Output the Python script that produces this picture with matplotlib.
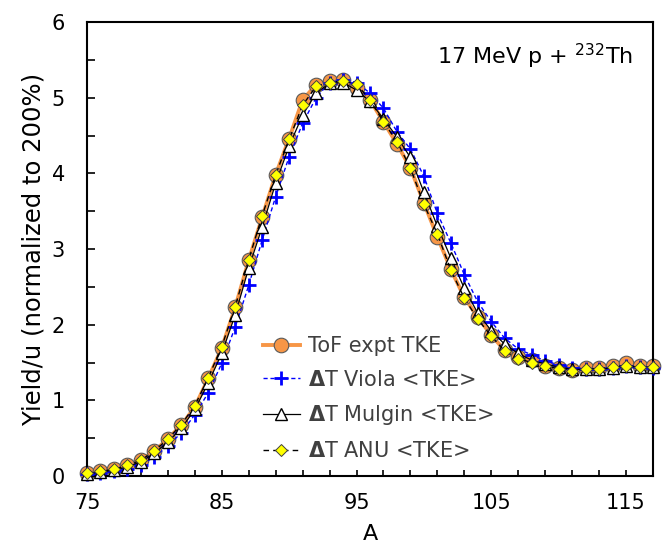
import matplotlib
matplotlib.use("Agg")
import matplotlib.pyplot as plt

# mass number A
A = list(range(75, 118))

# ToF expt TKE
tof = [0.04, 0.06, 0.09, 0.14, 0.21, 0.33, 0.49, 0.67, 0.91, 1.29,
       1.69, 2.23, 2.85, 3.42, 3.98, 4.46, 4.97, 5.17, 5.22, 5.24,
       5.13, 4.97, 4.68, 4.39, 4.07, 3.61, 3.16, 2.73, 2.36, 2.10,
       1.86, 1.66, 1.57, 1.53, 1.45, 1.43, 1.40, 1.43, 1.43, 1.46,
       1.49, 1.45, 1.46]

# dT Viola <TKE>
viola = [0.03, 0.04, 0.06, 0.09, 0.15, 0.25, 0.40, 0.57, 0.81, 1.10,
         1.49, 1.97, 2.52, 3.12, 3.69, 4.22, 4.66, 5.00, 5.20, 5.24,
         5.20, 5.06, 4.86, 4.55, 4.32, 3.96, 3.47, 3.08, 2.66, 2.30,
         2.04, 1.82, 1.68, 1.60, 1.52, 1.47, 1.43, 1.42, 1.42, 1.43,
         1.45, 1.44, 1.43]

# dT Mulgin <TKE>
mulgin = [0.03, 0.05, 0.08, 0.12, 0.19, 0.30, 0.45, 0.63, 0.88, 1.23,
          1.62, 2.13, 2.75, 3.29, 3.87, 4.36, 4.77, 5.06, 5.19, 5.20,
          5.10, 4.95, 4.72, 4.48, 4.21, 3.75, 3.30, 2.88, 2.48, 2.15,
          1.92, 1.74, 1.62, 1.53, 1.48, 1.44, 1.41, 1.41, 1.41, 1.43,
          1.45, 1.44, 1.44]

# dT ANU <TKE>
anu = [0.04, 0.06, 0.09, 0.14, 0.21, 0.33, 0.49, 0.68, 0.93, 1.30,
       1.71, 2.24, 2.86, 3.44, 3.98, 4.45, 4.90, 5.15, 5.20, 5.22,
       5.18, 4.97, 4.68, 4.42, 4.07, 3.59, 3.20, 2.72, 2.35, 2.07,
       1.85, 1.65, 1.55, 1.50, 1.45, 1.42, 1.39, 1.41, 1.42, 1.44,
       1.46, 1.44, 1.44]

plt.rcParams["font.family"] = "DejaVu Sans"

fig = plt.figure(figsize=(6.65, 5.45), dpi=100)
ax = fig.add_axes([87/665, 1 - 476/545, (653 - 87)/665, (476 - 22)/545])

ax.plot(A, tof, color="#F79646", lw=2.8, marker="o", ms=10.5, clip_on=False,
        mfc="#F79646", mec="#595959", mew=0.8, label="ToF expt TKE", zorder=2)
ax.plot(A, viola, color="#0000FF", lw=1.0, ls=(0, (3, 2)), marker="+", ms=10,
        mew=2.0, clip_on=False, label=r"$\mathbf{\Delta}$T Viola <TKE>", zorder=3)
ax.plot(A, mulgin, color="black", lw=0.9, marker="^", ms=8, clip_on=False,
        mfc="white", mec="black", mew=1.0, label=r"$\mathbf{\Delta}$T Mulgin <TKE>", zorder=4)
ax.plot(A, anu, color="black", lw=1.0, ls=(0, (4, 3)), marker="D", ms=6.3, clip_on=False,
        mfc="#FFFF00", mec="#404040", mew=0.7, label=r"$\mathbf{\Delta}$T ANU <TKE>", zorder=5)

ax.set_xlim(75, 117)
ax.set_ylim(0, 6)
ax.set_xticks([75, 85, 95, 105, 115])
ax.set_xticks(list(range(77, 118, 2)), minor=True)
ax.set_yticks([0, 1, 2, 3, 4, 5, 6])
ax.set_yticks([0.5, 1.5, 2.5, 3.5, 4.5, 5.5], minor=True)
ax.tick_params(axis="both", which="both", direction="in", width=1.2, labelsize=15)
ax.tick_params(axis="x", which="both", length=4, pad=12)
ax.tick_params(axis="y", which="both", length=5.5, pad=16)
for s in ax.spines.values():
    s.set_linewidth(1.5)

ax.set_xlabel("A", fontsize=16, labelpad=8)
ax.set_ylabel("Yield/u (normalized to 200%)", fontsize=17.5, labelpad=4)

ax.text(0.965, 0.925, r"17 MeV p + $^{232}$Th", transform=ax.transAxes,
        ha="right", va="center", fontsize=16)

leg = ax.legend(loc="upper left", bbox_to_anchor=(0.277, 0.35), frameon=False,
                fontsize=15, handlelength=1.8, labelspacing=0.66, handletextpad=0.4)
for t in leg.get_texts():
    t.set_color("#404040")

fig.savefig("out.png", dpi=100)
